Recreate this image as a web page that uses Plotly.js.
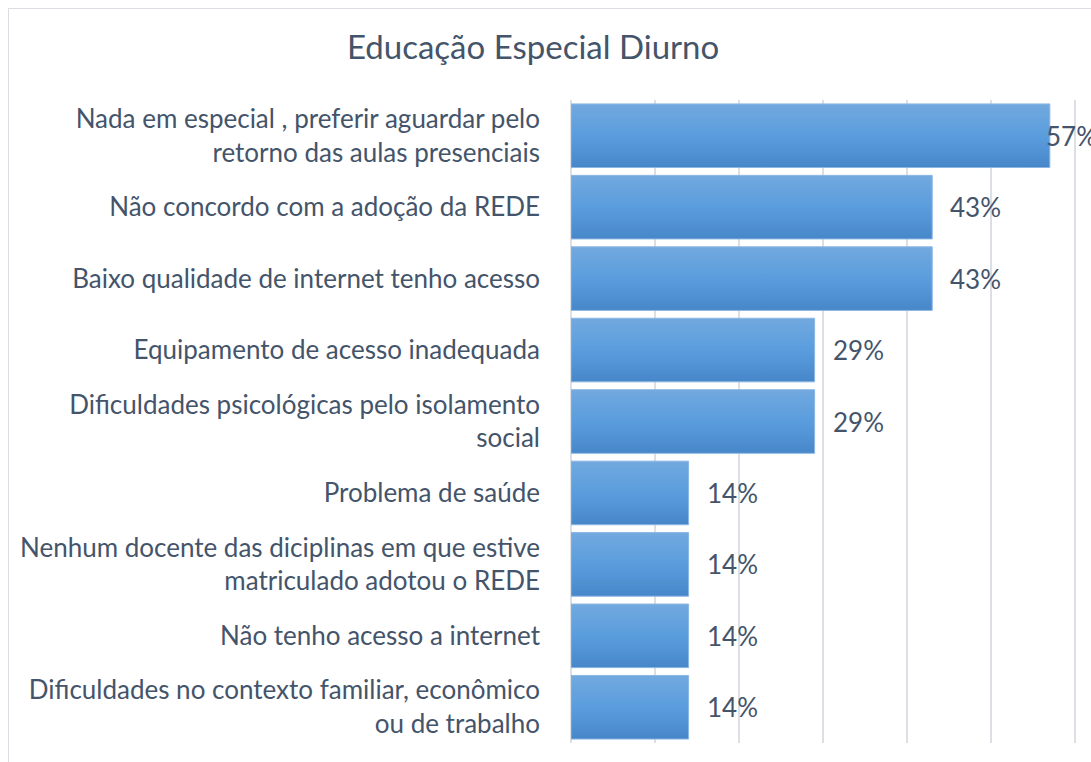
<!DOCTYPE html>
<html>
<head>
<meta charset="utf-8">
<script src="https://cdn.plot.ly/plotly-3.0.1.min.js"></script>
<style>
  html, body { margin: 0; padding: 0; background: #ffffff; overflow: hidden; }
  #frame { position: absolute; left: 8px; top: 8px; width: 3000px; height: 3000px;
           border-left: 1.5px solid #DADDE2; border-top: 1.5px solid #DADDE2; box-sizing: border-box; }
  #chart { position: absolute; left: 0; top: 0; width: 1091px; height: 762px; }
</style>
</head>
<body>
<div id="frame"></div>
<div id="chart"></div>
<script>
const chartTitle = "Educação Especial Diurno";
const categories = [
  "Nada em especial , preferir aguardar pelo<br>retorno das aulas presenciais",
  "Não concordo com a adoção da REDE",
  "Baixo qualidade de internet tenho acesso",
  "Equipamento de acesso inadequada",
  "Dificuldades psicológicas pelo isolamento<br>social",
  "Problema de saúde",
  "Nenhum docente das diciplinas em que estive<br>matriculado adotou o REDE",
  "Não tenho acesso a internet",
  "Dificuldades no contexto familiar, econômico<br>ou de trabalho"
];
const values = [57, 43, 43, 29, 29, 14, 14, 14, 14];
const valueLabels = ["57%", "43%", "43%", "29%", "29%", "14%", "14%", "14%", "14%"];
const gridTicks = [0, 10, 20, 30, 40, 50, 60];

const textColor = "#44546A";
const gridColor = "#DCE0E5";
const xMax = 61.9;
const fontFamily = "Lato, 'Open Sans', sans-serif";

const trace = {
  type: "bar",
  orientation: "h",
  x: values,
  y: categories,
  marker: { color: "#5B9BD5", line: { color: "#8CB6E3", width: 1 } },
  width: 0.89,
  hoverinfo: "skip"
};

const annotations = values.map((v, i) => ({
  x: v, y: categories[i], xref: "x", yref: "y",
  text: valueLabels[i], showarrow: false,
  xanchor: "left", yanchor: "middle",
  xshift: (v + 6 > xMax) ? -6 : 16,
  font: { family: fontFamily, size: 26, color: textColor }
}));

const layout = {
  width: 1091, height: 762,
  paper_bgcolor: "rgba(0,0,0,0)",
  plot_bgcolor: "rgba(0,0,0,0)",
  margin: { l: 571, r: 0, t: 100, b: 19 },
  showlegend: false,
  title: {
    text: chartTitle,
    xref: "container", yref: "container",
    x: 0.4886, y: 1 - 47 / 762,
    xanchor: "center", yanchor: "middle",
    font: { family: fontFamily, size: 33, color: textColor }
  },
  xaxis: {
    range: [0, xMax],
    tickvals: gridTicks,
    showticklabels: false,
    showgrid: true, gridcolor: gridColor, gridwidth: 1.5,
    zeroline: true, zerolinecolor: gridColor, zerolinewidth: 1.5,
    showline: false, ticks: "", fixedrange: true
  },
  yaxis: {
    autorange: "reversed",
    type: "category",
    showgrid: false, zeroline: false, showline: false,
    ticks: "", ticklabelstandoff: 30,
    tickfont: { family: fontFamily, size: 26, color: textColor },
    fixedrange: true
  },
  bargap: 0.11,
  annotations: annotations
};

Plotly.newPlot("chart", [trace], layout, { displayModeBar: false, staticPlot: true }).then(gd => {
  const svg = gd.querySelector("svg.main-svg");
  const ns = "http://www.w3.org/2000/svg";
  let defs = svg.querySelector("defs");
  if (!defs) { defs = document.createElementNS(ns, "defs"); svg.insertBefore(defs, svg.firstChild); }
  const grad = document.createElementNS(ns, "linearGradient");
  grad.setAttribute("id", "barGrad");
  grad.setAttribute("x1", "0"); grad.setAttribute("y1", "0");
  grad.setAttribute("x2", "0"); grad.setAttribute("y2", "1");
  [["0", "#72A9DF"], ["0.5", "#5A9DDD"], ["1", "#4787C9"]].forEach(([o, c]) => {
    const s = document.createElementNS(ns, "stop");
    s.setAttribute("offset", o); s.setAttribute("stop-color", c);
    grad.appendChild(s);
  });
  defs.appendChild(grad);
  gd.querySelectorAll(".bars .point path").forEach(p => { p.style.fill = "url(#barGrad)"; });
});
</script>
</body>
</html>
